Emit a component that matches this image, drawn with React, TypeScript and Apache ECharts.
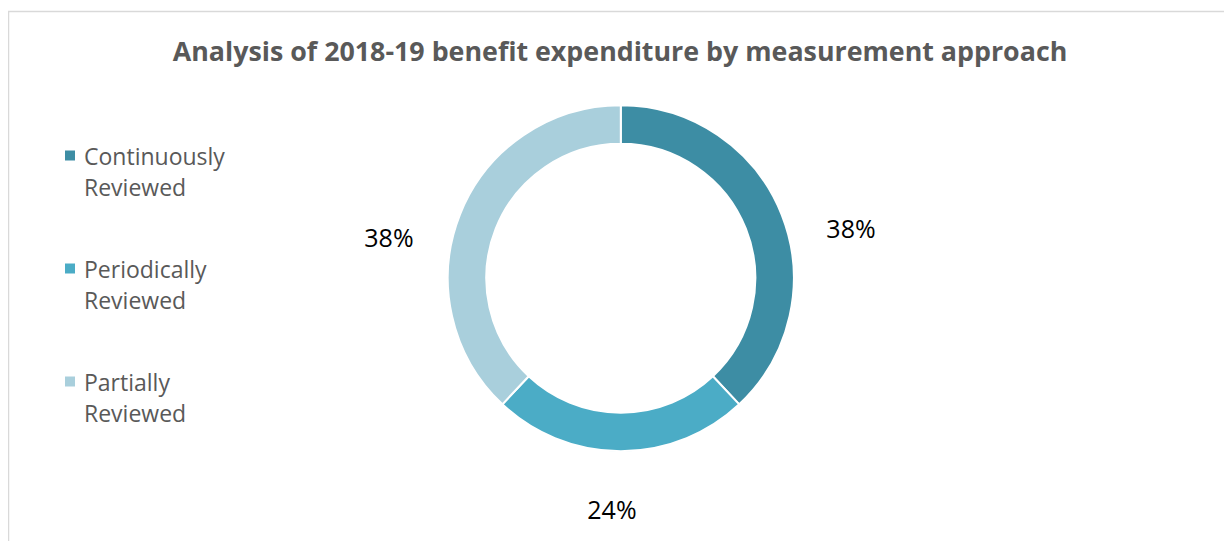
import React, { useEffect, useRef } from "react";
import * as echarts from "echarts";

const titleText = "Analysis of 2018-19 benefit expenditure by measurement approach";
const categories = ["Continuously\nReviewed", "Periodically\nReviewed", "Partially\nReviewed"];
const values = [38, 24, 38];
const colors = ["#3D8DA4", "#4BACC6", "#A9CFDC"];

export default function App() {
  const ref = useRef<HTMLDivElement>(null);
  useEffect(() => {
    if (!ref.current) return;
    const chart = echarts.init(ref.current, undefined, { renderer: "svg" });
    const cx = 612.8;
    const cy = 270.2;
    // label placement around the ring (angle from 12 o'clock clockwise, radius)
    const labelPolar = [
      [77.8, 235.5],
      [182.2, 230.8],
      [280.1, 235.5],
    ];
    chart.setOption({
      animation: false,
      color: colors,
      title: {
        text: titleText,
        left: "center",
        top: 24,
        textStyle: {
          fontFamily: "Open Sans",
          fontWeight: "bold",
          fontSize: 26.8,
          color: "#595959",
        },
      },
      graphic: [
        {
          type: "rect",
          shape: { x: 0.5, y: 3.5, width: 1400, height: 800 },
          style: { fill: "none", stroke: "#D9D9D9", lineWidth: 1.5 },
          silent: true,
          z: -1,
        },
      ],
      legend: {
        orient: "vertical",
        left: 57,
        top: 132,
        padding: 0,
        itemGap: 51,
        itemWidth: 14,
        itemHeight: 41,
        icon: "path://M0,0L10,0L10,10L0,10Z M14,41L14,41",
        itemStyle: { borderWidth: 0 },
        textStyle: {
          fontFamily: "Open Sans",
          fontSize: 23,
          lineHeight: 31,
          color: "#595959",
        },
        data: categories,
      },
      series: [
        {
          type: "pie",
          center: [cx, cy],
          radius: [134.5, 173],
          startAngle: 90,
          clockwise: true,
          itemStyle: { borderColor: "#fff", borderWidth: 2 },
          label: {
            show: true,
            position: "outside",
            formatter: (p: any) => `${p.value}%`,
            fontFamily: "Open Sans",
            fontSize: 25,
            color: "#000",
          },
          labelLine: { show: false },
          labelLayout: (p: any) => {
            const [ang, r] = labelPolar[p.dataIndex];
            const a = (ang * Math.PI) / 180;
            return {
              x: cx + r * Math.sin(a),
              y: cy - r * Math.cos(a),
              align: "center",
              verticalAlign: "middle",
            };
          },
          emphasis: { disabled: true },
          data: categories.map((name, i) => ({ name, value: values[i] })),
        },
      ],
    });
    return () => chart.dispose();
  }, []);
  return <div ref={ref} style={{ width: 1224, height: 533 }} />;
}
